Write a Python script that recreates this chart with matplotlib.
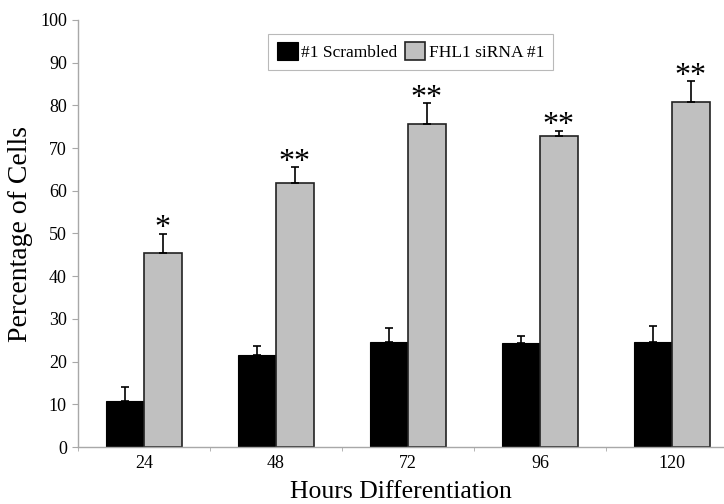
import matplotlib

matplotlib.use("Agg")
import matplotlib.pyplot as plt
import numpy as np

hours = ["24", "48", "72", "96", "120"]
scrambled = [10.8, 21.5, 24.7, 24.3, 24.7]
scrambled_err = [3.2, 2.2, 3.1, 1.7, 3.6]
sirna = [45.5, 61.9, 75.6, 72.8, 80.9]
sirna_err = [4.4, 3.6, 4.9, 1.2, 4.7]
stars = ["*", "**", "**", "**", "**"]

plt.rcParams["font.family"] = ["Liberation Serif", "DejaVu Serif"]

fig = plt.figure(figsize=(7.24, 5.04), dpi=100)
ax = fig.add_axes([78 / 724, 1 - 447 / 504, 646 / 724, 427 / 504])

x = np.arange(len(hours))
w = 0.285
axis_grey = "#a8a8a8"

ax.bar(x - w / 2, scrambled, w, color="black", edgecolor="black", lw=0.8,
       label="#1 Scrambled", zorder=2)
ax.bar(x + w / 2, sirna, w, color="#c0c0c0", edgecolor="#222222", lw=1.2,
       label="FHL1 siRNA #1", zorder=2)

zeros = np.zeros(len(hours))
ax.errorbar(x - w / 2, scrambled, yerr=[zeros, scrambled_err], fmt="none",
            ecolor="black", elinewidth=1.2, capsize=3, capthick=1.2, zorder=3)
ax.errorbar(x + w / 2, sirna, yerr=[zeros, sirna_err], fmt="none",
            ecolor="black", elinewidth=1.2, capsize=3, capthick=1.2, zorder=3)

# significance marks sit right on top of the error caps
for xi, top, s in zip(x + w / 2, np.add(sirna, sirna_err), stars):
  ax.text(xi, top - 2.2, s, ha="center", va="bottom", fontsize=23)

ax.set_ylim(0, 100)
ax.set_xlim(-0.5, 4.394)
ax.set_yticks(np.arange(0, 101, 10))
ax.set_xticks(x)
ax.set_xticklabels(hours)
ax.set_xticks(np.arange(-0.5, 4.5, 1.0), minor=True)
ax.tick_params(axis="x", which="major", length=0, labelsize=13, pad=6)
ax.tick_params(axis="x", which="minor", length=3, color=axis_grey, direction="out")
ax.tick_params(axis="y", length=4, color=axis_grey, labelsize=13, pad=4)

for side in ("top", "right"):
  ax.spines[side].set_visible(False)
for side in ("left", "bottom"):
  ax.spines[side].set_color(axis_grey)
  ax.spines[side].set_linewidth(1.0)

ax.set_ylabel("Percentage of Cells", fontsize=20, labelpad=5)
ax.set_xlabel("Hours Differentiation", fontsize=18.5, labelpad=6)

leg = ax.legend(loc="upper center", bbox_to_anchor=(0.515, 0.968), ncol=2,
                fontsize=12.5, frameon=True, fancybox=False,
                handlelength=1.2, handleheight=1.2, handletextpad=0.2,
                columnspacing=0.4, borderpad=0.5, borderaxespad=0)
leg.get_frame().set_edgecolor(axis_grey)
leg.get_frame().set_linewidth(0.8)

fig.savefig("out.png", dpi=100)
